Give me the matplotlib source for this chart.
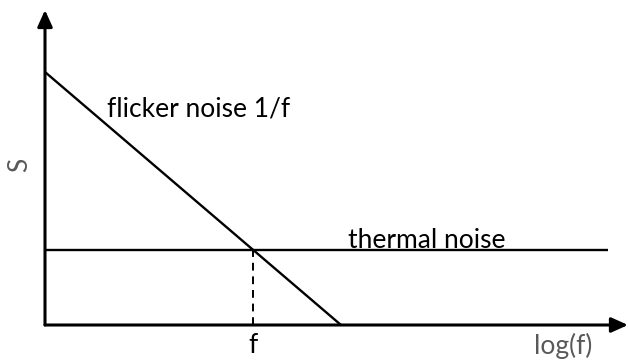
import matplotlib.pyplot as plt

plt.rcParams['font.family'] = ['Lato', 'DejaVu Sans']

# noise spectrum sketch (arbitrary units, log(f) on x)
flicker_x = [0, 296]
flicker_y = [253, 0]
thermal_x = [0, 563]
thermal_y = [75, 75]
x_max, y_max = 583, 315

# corner frequency where the two lines cross
slope = (flicker_y[1] - flicker_y[0]) / (flicker_x[1] - flicker_x[0])
f_corner = flicker_x[0] + (thermal_y[0] - flicker_y[0]) / slope

fig = plt.figure(figsize=(6.28, 3.62), dpi=100)
ax = fig.add_axes([45 / 628, 37 / 362, 583 / 628, 315 / 362])
ax.set_xlim(0, x_max)
ax.set_ylim(0, y_max)
ax.axis('off')

ax.plot(flicker_x, flicker_y, color='black', lw=1.7, solid_capstyle='butt')
ax.plot(thermal_x, thermal_y, color='black', lw=1.7, solid_capstyle='butt')
ax.plot([f_corner, f_corner], [0, thermal_y[0]], color='black', lw=1.4,
        ls=(0, (4, 3)))

# axes with arrow heads
arrow = dict(arrowstyle='-|>,head_length=1.0,head_width=0.45', color='black',
             lw=2.2, shrinkA=0, shrinkB=0)
ax.annotate('', xy=(x_max, 0), xytext=(0, 0), arrowprops=arrow,
            annotation_clip=False)
ax.annotate('', xy=(0, y_max), xytext=(0, 0), arrowprops=arrow,
            annotation_clip=False)

ax.text(62, 216, 'flicker noise 1/f', fontsize=19, ha='left', va='center')
ax.text(303, 84, 'thermal noise', fontsize=19, ha='left', va='center')
ax.text(f_corner, -8, 'f', fontsize=19, ha='center', va='top')
ax.text(518, -8, 'log(f)', fontsize=19, ha='center', va='top', color='#595959')
ax.text(-25, 160, 'S', fontsize=19, ha='center', va='center', rotation=90,
        color='#595959')

fig.savefig('out.png', dpi=100)
